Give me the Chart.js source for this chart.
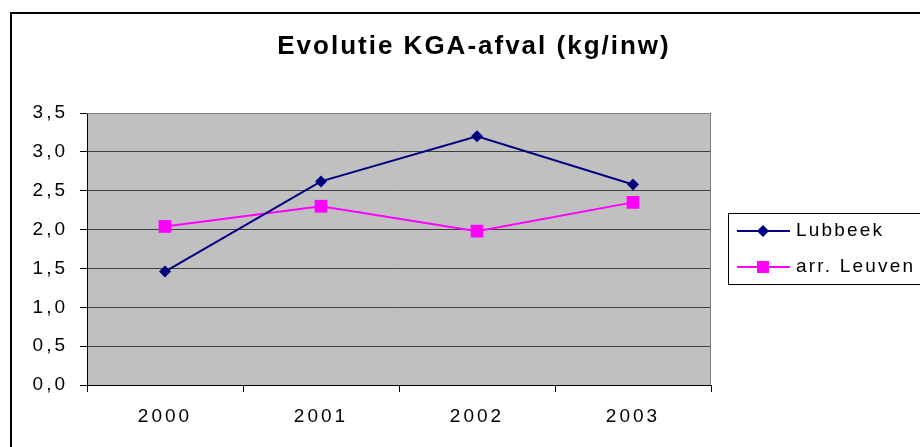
<!DOCTYPE html>
<html>
<head>
<meta charset="utf-8">
<script src="https://cdn.jsdelivr.net/npm/chart.js@4"></script>
<style>
  html, body { margin: 0; padding: 0; background: #fff; }
  #wrap { width: 920px; height: 447px; }
</style>
</head>
<body>
<div id="wrap"><canvas id="myChart" width="920" height="447"></canvas></div>
<script>
// data
const years = ["2000", "2001", "2002", "2003"];
const lubbeek = [1.46, 2.62, 3.2, 2.58];
const leuven = [2.04, 2.3, 1.98, 2.35];
const yTicks = [0, 0.5, 1, 1.5, 2, 2.5, 3, 3.5];
const chartTitle = "Evolutie KGA-afval (kg/inw)";

const FONT = "'Liberation Sans', Arial, sans-serif";
// excel stretches its text a bit, fake it with letter spacing
const SPACING = "3px";

// excel-ish frame, grey plot area, title and the boxed legend
const excelLook = {
  id: "excelLook",
  beforeDraw(chart) {
    const { ctx, chartArea: a } = chart;
    ctx.save();
    ctx.fillStyle = "#fff";
    ctx.fillRect(0, 0, chart.width, chart.height);
    ctx.fillStyle = "#C0C0C0";
    ctx.fillRect(a.left, a.top, a.right - a.left, a.bottom - a.top);
    ctx.restore();
    // tick labels get drawn with this
    ctx.letterSpacing = SPACING;
  },
  afterDraw(chart) {
    const { ctx, chartArea: a } = chart;
    ctx.save();
    ctx.letterSpacing = "0px";
    // plot area outline (top / right)
    ctx.strokeStyle = "#808080";
    ctx.lineWidth = 1;
    ctx.beginPath();
    ctx.moveTo(a.left, a.top + 0.5);
    ctx.lineTo(a.right - 0.5, a.top + 0.5);
    ctx.lineTo(a.right - 0.5, a.bottom);
    ctx.stroke();

    // outer chart border, only top and left are in the picture
    ctx.strokeStyle = "#000";
    ctx.lineWidth = 2;
    ctx.beginPath();
    ctx.moveTo(11, chart.height + 5);
    ctx.lineTo(11, 13);
    ctx.lineTo(chart.width + 5, 13);
    ctx.stroke();

    // title
    ctx.fillStyle = "#000";
    ctx.font = "bold 26px " + FONT;
    ctx.letterSpacing = "2px";
    ctx.textAlign = "center";
    ctx.textBaseline = "alphabetic";
    ctx.fillText(chartTitle, 474, 54);
    ctx.letterSpacing = "0px";

    // legend
    ctx.strokeStyle = "#000";
    ctx.lineWidth = 1;
    ctx.strokeRect(728.5, 213.5, 200, 71);
    ctx.font = "19px " + FONT;
    ctx.textAlign = "left";
    ctx.textBaseline = "middle";
    chart.data.datasets.forEach((ds, i) => {
      const y = 231 + i * 36;
      ctx.strokeStyle = ds.borderColor;
      ctx.lineWidth = 2;
      ctx.beginPath();
      ctx.moveTo(737, y);
      ctx.lineTo(790, y);
      ctx.stroke();
      ctx.fillStyle = ds.backgroundColor;
      if (ds.pointStyle === "rect") {
        ctx.fillRect(757, y - 6, 12, 12);
      } else {
        ctx.beginPath();
        ctx.moveTo(763, y - 6);
        ctx.lineTo(769, y);
        ctx.lineTo(763, y + 6);
        ctx.lineTo(757, y);
        ctx.closePath();
        ctx.fill();
      }
      ctx.fillStyle = "#000";
      ctx.letterSpacing = "2.2px";
      ctx.fillText(ds.label, 796, y);
      ctx.letterSpacing = "0px";
    });
    ctx.restore();
  }
};

const ctx = document.getElementById("myChart").getContext("2d");
const myChart = new Chart(ctx, {
  type: "line",
  data: {
    labels: years,
    datasets: [
      {
        label: "Lubbeek",
        data: lubbeek,
        borderColor: "#000080",
        backgroundColor: "#000080",
        borderWidth: 2,
        pointStyle: "rectRot",
        pointRadius: 6,
        pointBorderWidth: 0,
        tension: 0
      },
      {
        label: "arr. Leuven",
        data: leuven,
        borderColor: "#FF00FF",
        backgroundColor: "#FF00FF",
        borderWidth: 2,
        pointStyle: "rect",
        pointRadius: 9,
        pointBorderWidth: 0,
        tension: 0
      }
    ]
  },
  options: {
    responsive: false,
    animation: false,
    events: [],
    layout: { padding: { top: 113, right: 209, bottom: 0, left: 0 } },
    plugins: {
      legend: { display: false },
      title: { display: false },
      tooltip: { enabled: false }
    },
    scales: {
      x: {
        offset: true,
        afterFit: (s) => { s.height = 62; },
        grid: {
          offset: true,
          drawOnChartArea: false,
          color: "#000",
          tickLength: 7
        },
        border: { color: "#000", width: 1 },
        ticks: {
          color: "#000",
          padding: 13,
          font: { family: FONT, size: 19 }
        }
      },
      y: {
        min: 0,
        max: 3.5,
        afterFit: (s) => { s.width = 87; },
        afterBuildTicks: (s) => { s.ticks = yTicks.map((v) => ({ value: v })); },
        grid: {
          color: "#404040",
          tickColor: "#000",
          tickLength: 7
        },
        border: { color: "#000", width: 1 },
        ticks: {
          color: "#000",
          padding: 12,
          font: { family: FONT, size: 19 },
          callback: (v) => v.toFixed(1).replace(".", ",")
        }
      }
    }
  },
  plugins: [excelLook]
});
</script>
</body>
</html>
